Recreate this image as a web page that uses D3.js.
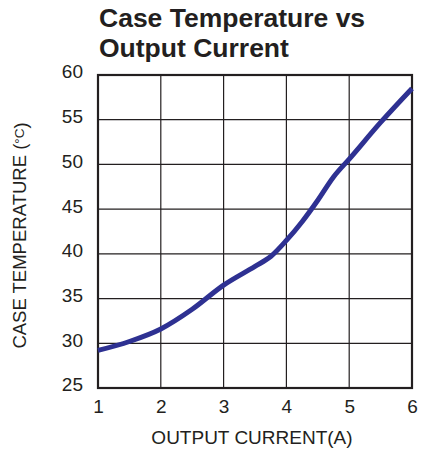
<!DOCTYPE html>
<html>
<head>
<meta charset="utf-8">
<script src="https://cdn.jsdelivr.net/npm/d3@7"></script>
<style>
  body { margin: 0; background: #fff; }
  text { font-family: "Liberation Sans", Arial, sans-serif; fill: #231f20; }
</style>
</head>
<body>
<svg id="chart" width="423" height="449"></svg>
<script>
// data
var current = [1, 1.5, 2, 2.5, 3, 3.5, 3.75, 4, 4.25, 4.5, 4.75, 5, 5.5, 6];
var caseTemp = [29.2, 30.2, 31.6, 33.8, 36.5, 38.6, 39.7, 41.5, 43.6, 46.0, 48.6, 50.6, 54.7, 58.5];
var xTicks = [1, 2, 3, 4, 5, 6];
var yTicks = [25, 30, 35, 40, 45, 50, 55, 60];

var svg = d3.select("#chart");
var margin = {top: 75, right: 11, bottom: 61, left: 98};
var width = 423 - margin.left - margin.right,
    height = 449 - margin.top - margin.bottom;

var x = d3.scaleLinear().domain([1, 6]).range([0, width]);
var y = d3.scaleLinear().domain([25, 60]).range([height, 0]);

// titel
var title = svg.append("text")
  .attr("x", 99)
  .attr("y", 27)
  .style("font-size", "26.5px")
  .style("font-weight", "bold");
title.append("tspan").attr("x", 99).text("Case Temperature vs");
title.append("tspan").attr("x", 99).attr("dy", 30).text("Output Current");

var g = svg.append("g")
  .attr("transform", "translate(" + margin.left + "," + margin.top + ")");

// mreza
g.selectAll(".vgrid")
  .data(xTicks)
  .join("line")
  .attr("x1", d => x(d)).attr("x2", d => x(d))
  .attr("y1", 0).attr("y2", height)
  .attr("stroke", "#231f20")
  .attr("stroke-width", 1.2);

g.selectAll(".hgrid")
  .data(yTicks)
  .join("line")
  .attr("y1", d => y(d)).attr("y2", d => y(d))
  .attr("x1", 0).attr("x2", width)
  .attr("stroke", "#231f20")
  .attr("stroke-width", 1.2);

g.append("rect")
  .attr("width", width)
  .attr("height", height)
  .attr("fill", "none")
  .attr("stroke", "#231f20")
  .attr("stroke-width", 2.2);

// osi
var xAxis = g.append("g")
  .attr("transform", "translate(0," + height + ")")
  .call(d3.axisBottom(x).tickValues(xTicks).tickSize(0).tickPadding(11).tickFormat(d3.format("d")));
xAxis.select(".domain").remove();
xAxis.selectAll("text").style("font-size", "19px").attr("dy", "0.72em");

var yAxis = g.append("g")
  .call(d3.axisLeft(y).tickValues(yTicks).tickSize(0).tickPadding(15).tickFormat(d3.format("d")));
yAxis.select(".domain").remove();
yAxis.selectAll("text").style("font-size", "19px").attr("dy", "0.15em");

svg.append("text")
  .attr("x", margin.left + width / 2 - 3)
  .attr("y", 444)
  .attr("text-anchor", "middle")
  .style("font-size", "19px")
  .text("OUTPUT CURRENT(A)");

var yt = svg.append("text")
  .attr("transform", "translate(26," + (margin.top + height / 2 + 4) + ") rotate(-90)")
  .attr("text-anchor", "middle")
  .style("font-size", "18.5px");
yt.append("tspan").text("CASE TEMPERATURE (");
yt.append("tspan").style("font-size", "13.5px").attr("dy", "-0.15em").text("°C");
yt.append("tspan").attr("dy", "0.15em").text(")");

// krivulja
var line = d3.line()
  .x((d, i) => x(current[i]))
  .y(d => y(d))
  .curve(d3.curveMonotoneX);

g.append("path")
  .datum(caseTemp)
  .attr("d", line)
  .attr("fill", "none")
  .attr("stroke", "#2e3192")
  .attr("stroke-width", 5)
  .attr("stroke-linecap", "butt");
</script>
</body>
</html>
